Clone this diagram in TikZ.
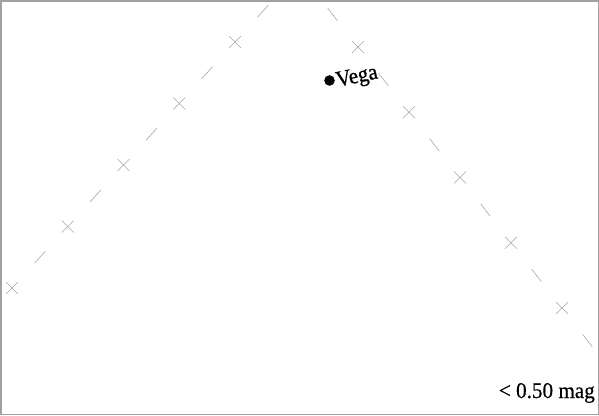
\documentclass[tikz,border=0pt]{standalone}
\usepackage{fontspec}
\setmainfont{Liberation Serif}
\newfontfamily\starfont[FakeBold=0.9]{Liberation Serif}
\newfontfamily\magfont[FakeBold=0.35]{Liberation Serif}
\usetikzlibrary{calc}
\definecolor{gridgray}{RGB}{165,165,165}
\definecolor{framegray}{RGB}{160,160,160}
\tikzset{
  gridline/.style={draw=gridgray, line width=0.6pt},
  framebox/.style={draw=framegray, line width=1.5pt},
  starlabel/.style={font=\starfont\fontsize{22.5}{23}\selectfont, inner sep=0pt, anchor=base west},
  maglabel/.style={font=\magfont\fontsize{22.5}{23}\selectfont, inner sep=0pt, anchor=base east}
}
\begin{document}
\begin{tikzpicture}[x=1pt,y=-1pt]
\useasboundingbox (0,0) rectangle (599,415);
\begin{scope}
\clip (0,0) rectangle (599,415);
% left grid line
\foreach \k in {0,...,4} {
  \coordinate (lc\k) at ({12+55.75*\k},{288-61.5*\k});
  \draw[gridline] ($(lc\k)+(-6,-6)$) -- ($(lc\k)+(6,6)$);
  \draw[gridline] ($(lc\k)+(-6,6)$) -- ($(lc\k)+(6,-6)$);
}
\foreach \k in {-0.5,0.5,1.5,2.5,3.5,4.5} {
  \coordinate (ld) at ({12+55.75*\k},{288-61.5*\k});
  \draw[gridline] ($(ld)+(-5.4,6)$) -- ($(ld)+(5.4,-6)$);
}
% right grid line
\foreach \k in {0,...,4} {
  \coordinate (rc\k) at ({358+51*\k},{47+65.25*\k});
  \draw[gridline] ($(rc\k)+(-6,-6)$) -- ($(rc\k)+(6,6)$);
  \draw[gridline] ($(rc\k)+(-6,6)$) -- ($(rc\k)+(6,-6)$);
}
\foreach \k in {-0.5,0.5,1.5,2.5,3.5,4.5} {
  \coordinate (rd) at ({358+51*\k},{47+65.25*\k});
  \draw[gridline] ($(rd)+(-4.8,-6.2)$) -- ($(rd)+(4.8,6.2)$);
}
\end{scope}
% Vega
\fill[black] (329.5,80.5) circle (5.3) coordinate (vega);
\node[starlabel, rotate=12] (vegalabel) at (337.5,87) {\scalebox{0.93}[1]{Vega}};
% magnitude label
\node[maglabel] (mag) at (595,398) {\scalebox{0.94}[1]{< 0.50 mag}};
% frame
\draw[framebox] (0.75,0.75) rectangle (598.25,414.25);
\end{tikzpicture}
\end{document}
